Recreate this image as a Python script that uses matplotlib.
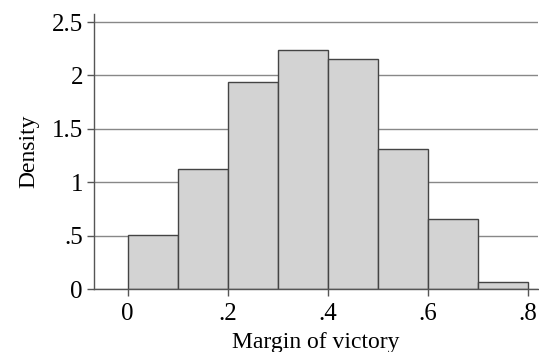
import matplotlib
matplotlib.use("Agg")
import matplotlib.pyplot as plt

bin_edges = [0.0, 0.1, 0.2, 0.3, 0.4, 0.5, 0.6, 0.7, 0.8]
density = [0.51, 1.12, 1.94, 2.235, 2.15, 1.31, 0.655, 0.07]
xticks = [0, 0.2, 0.4, 0.6, 0.8]
xtick_labels = ["0", ".2", ".4", ".6", ".8"]
yticks = [0, 0.5, 1, 1.5, 2, 2.5]
ytick_labels = ["0", ".5", "1", "1.5", "2", "2.5"]

plt.rcParams["font.family"] = ["Liberation Serif", "DejaVu Serif"]

fig = plt.figure(figsize=(5.39, 3.52), dpi=100)
ax = fig.add_axes([94 / 539, 63 / 352, (538 - 94) / 539, (289 - 14) / 352])

widths = [b - a for a, b in zip(bin_edges[:-1], bin_edges[1:])]
ax.bar(bin_edges[:-1], density, width=widths, align="edge",
       color="#d3d3d3", edgecolor="#444444", linewidth=1.0, zorder=2)

ax.set_xlim(-0.067, 0.82)
ax.set_ylim(0, 2.575)
ax.set_xticks(xticks)
ax.set_xticklabels(xtick_labels)
ax.set_yticks(yticks)
ax.set_yticklabels(ytick_labels)
ax.grid(axis="y", color="#888888", linewidth=1.0, zorder=0)
ax.set_axisbelow(True)

for s in ["top", "right"]:
    ax.spines[s].set_visible(False)
for s in ["left", "bottom"]:
    ax.spines[s].set_color("#555555")
    ax.spines[s].set_linewidth(1.0)
ax.tick_params(colors="#555555", labelcolor="black", labelsize=18, length=5, width=1.0)
ax.tick_params(axis="y", pad=3)
ax.tick_params(axis="x", pad=5)

ax.set_xlabel("Margin of victory", fontsize=17, labelpad=5)
ax.set_ylabel("Density", fontsize=17, labelpad=9)

fig.savefig("out.png", dpi=100)
